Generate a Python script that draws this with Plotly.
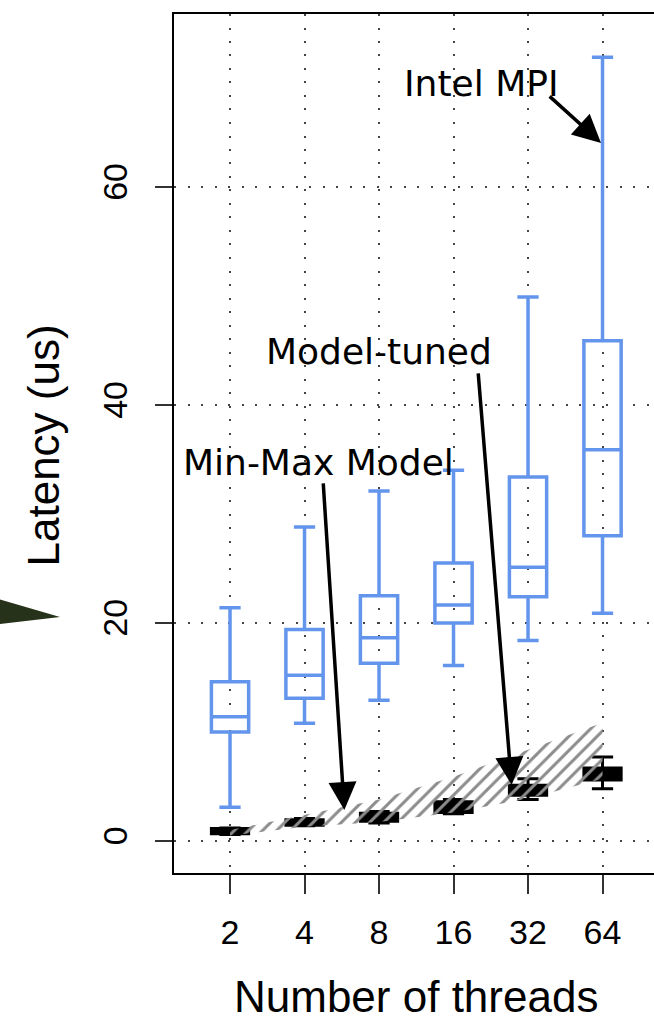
import plotly.graph_objects as go

# ---- data ----
threads = ["2", "4", "8", "16", "32", "64"]
pos = [0, 1, 2, 3, 4, 5]

# Intel MPI latency boxes (us)
mpi_low = [3.1, 10.8, 12.9, 16.1, 18.4, 20.9]
mpi_q1 = [10.0, 13.1, 16.3, 20.0, 22.4, 28.0]
mpi_med = [11.4, 15.2, 18.65, 21.65, 25.1, 35.9]
mpi_q3 = [14.6, 19.4, 22.5, 25.5, 33.4, 45.9]
mpi_high = [21.4, 28.8, 32.1, 34.0, 49.9, 71.9]

# Model-tuned latency boxes (us)
tuned_low = [0.6, 1.4, 1.65, 2.5, 3.8, 4.8]
tuned_q1 = [0.65, 1.45, 1.8, 2.6, 4.2, 5.6]
tuned_med = [0.9, 1.7, 2.2, 3.1, 4.7, 6.2]
tuned_q3 = [1.15, 1.95, 2.55, 3.6, 5.1, 6.7]
tuned_high = [1.2, 2.05, 2.7, 3.8, 5.7, 7.7]

# Min-Max model band (us)
band_upper = [1.0, 2.4, 3.8, 5.9, 8.4, 10.85]
band_lower = [0.5, 1.3, 1.75, 2.6, 3.9, 5.7]

BLUE = "#6495ED"
AXFONT = "Liberation Sans, Arial, sans-serif"
ANFONT = "DejaVu Sans, sans-serif"

fig = go.Figure()

fig.add_trace(go.Box(
    x=pos, q1=mpi_q1, median=mpi_med, q3=mpi_q3,
    lowerfence=mpi_low, upperfence=mpi_high,
    width=0.5, whiskerwidth=0.57, boxpoints=False,
    line=dict(color=BLUE, width=3.5), fillcolor="rgba(0,0,0,0)",
    name="Intel MPI", showlegend=False,
))
fig.add_trace(go.Box(
    x=pos, q1=tuned_q1, median=tuned_med, q3=tuned_q3,
    lowerfence=tuned_low, upperfence=tuned_high,
    width=0.5, whiskerwidth=0.57, boxpoints=False,
    line=dict(color="black", width=3), fillcolor="black",
    name="Model-tuned", showlegend=False,
))
fig.add_trace(go.Scatter(
    x=pos + pos[::-1], y=band_upper + band_lower[::-1],
    mode="lines", line=dict(width=0, color="rgba(0,0,0,0)"),
    fill="toself", fillcolor="rgba(0,0,0,0)",
    fillpattern=dict(shape="/", fgcolor="#8c8c8c", bgcolor="rgba(0,0,0,0)",
                     size=10, solidity=0.3, fgopacity=1),
    name="Min-Max Model", showlegend=False, hoverinfo="skip",
))

grid = dict(showgrid=True, gridcolor="#444", gridwidth=1.5, griddash="2px,11.5px")

fig.update_layout(
    width=654, height=1024, autosize=False,
    margin=dict(l=174, r=0, t=14, b=151),
    paper_bgcolor="white", plot_bgcolor="white",
    boxmode="overlay",
    xaxis=dict(range=[-0.752, 5.691], tickmode="array", tickvals=pos, ticktext=threads,
               showline=True, linecolor="black", linewidth=2, mirror=True,
               ticks="outside", ticklen=19, tickwidth=1.5, tickcolor="#333",
               tickfont=dict(family=AXFONT, size=34, color="black"),
               zeroline=False, ticklabelstandoff=9, **grid),
    yaxis=dict(range=[-2.94, 75.87], tickmode="array", tickvals=[0, 20, 40, 60],
               showline=True, linecolor="black", linewidth=2, mirror=False,
               ticks="outside", ticklen=17, tickwidth=1.5, tickcolor="#333",
               tickangle=-90, tickfont=dict(family=AXFONT, size=34, color="black"),
               zeroline=False, ticklabelstandoff=14, **grid),
)

def px(xp):
    return (xp - 174) / 480.0

def py(yp):
    return (873 - yp) / 859.0

annos = [
    dict(text="Number of threads", x=px(416), y=py(996), xref="paper", yref="paper",
         showarrow=False, xanchor="center", yanchor="middle",
         font=dict(family=AXFONT, size=44, color="black")),
    dict(text="Latency (us)", x=px(42.5), y=py(446), xref="paper", yref="paper",
         showarrow=False, xanchor="center", yanchor="middle", textangle=-90,
         font=dict(family=AXFONT, size=44, color="black")),
    dict(text="Intel MPI", x=px(481.5), y=py(83), xref="paper", yref="paper",
         showarrow=False, xanchor="center", yanchor="middle",
         font=dict(family=ANFONT, size=36, color="black")),
    dict(text="Model-tuned", x=px(379), y=py(351), xref="paper", yref="paper",
         showarrow=False, xanchor="center", yanchor="middle",
         font=dict(family=ANFONT, size=36, color="black")),
    dict(text="Min-Max Model", x=px(318), y=py(463), xref="paper", yref="paper",
         showarrow=False, xanchor="center", yanchor="middle",
         font=dict(family=ANFONT, size=36, color="black")),
]
arrows = [
    ((4.27, 68.44), (4.98, 64.04)),
    ((3.33, 43.03), (3.78, 5.14)),
    ((1.25, 32.94), (1.534, 2.84)),
]
for (sx, sy), (ex, ey) in arrows:
    annos.append(dict(text="", x=ex, y=ey, xref="x", yref="y",
                      ax=sx, ay=sy, axref="x", ayref="y",
                      showarrow=True, arrowhead=2, arrowsize=1.6, arrowwidth=3.5,
                      arrowcolor="black", standoff=0, startstandoff=0))
fig.update_layout(annotations=annos)

fig.add_shape(type="path", xref="paper", yref="paper",
              path=f"M {px(-5)},{py(598)} L {px(60)},{py(617)} L {px(-5)},{py(624.5)} Z",
              fillcolor="#26331a", line=dict(width=0), layer="above")

fig.write_html("out.html")
